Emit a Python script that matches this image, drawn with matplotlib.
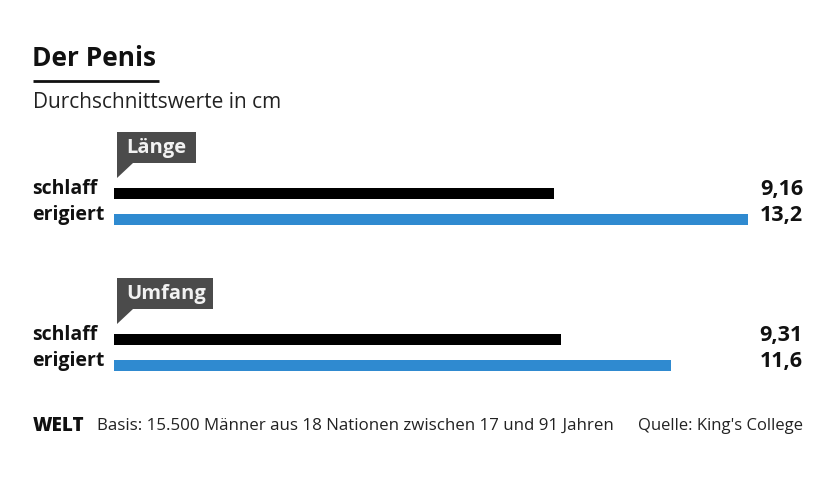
import matplotlib
matplotlib.use("Agg")
import matplotlib.pyplot as plt
from matplotlib.patches import Polygon

plt.rcParams['font.family'] = ['Open Sans', 'DejaVu Sans']

title = "Der Penis"
subtitle = "Durchschnittswerte in cm"
groups = ["Länge", "Umfang"]
categories = ["schlaff", "erigiert"]
laenge_values = [9.16, 13.2]
umfang_values = [9.31, 11.6]
laenge_labels = ["9,16", "13,2"]
umfang_labels = ["9,31", "11,6"]
footer_left = "Basis: 15.500 Männer aus 18 Nationen zwischen 17 und 91 Jahren"
footer_right = "Quelle: King's College"

colors = ["#000000", "#2f8ad0"]
W, H = 840, 480
fig = plt.figure(figsize=(W / 100, H / 100), dpi=100)
fig.patch.set_facecolor("white")

ov = fig.add_axes([0, 0, 1, 1])
ov.set_xlim(0, W)
ov.set_ylim(H, 0)
ov.axis("off")

bx0, bx1 = 114, 748
ax = fig.add_axes([bx0 / W, 0, (bx1 - bx0) / W, 1])
ax.set_xlim(0, 13.2)
ax.set_ylim(H, 0)
ax.axis("off")

group_y = [193, 339]
row_gap = 26
bar_h = 11
box_w = [79, 96]

ov.text(32, 58, title, fontsize=19, fontweight="bold", va="center", ha="left", color="#111111")
ov.plot([33, 159], [81, 81], color="#111111", lw=2, solid_capstyle="butt")
ov.text(33, 103, subtitle, fontsize=15, va="center", ha="left", color="#222222")

for gi, (g, vals, labs) in enumerate(zip(groups, [laenge_values, umfang_values], [laenge_labels, umfang_labels])):
    y0 = group_y[gi]
    ys = [y0 + i * row_gap for i in range(len(categories))]
    ax.barh(ys, vals, height=bar_h, left=0, color=colors, edgecolor="none")
    top = y0 - 61
    bot = y0 - 30
    x0 = 117
    ov.add_patch(Polygon([(x0, top), (x0 + box_w[gi], top), (x0 + box_w[gi], bot),
                          (x0 + 16, bot), (x0, bot + 15), (x0, bot)],
                         closed=True, facecolor="#4b4b4b", edgecolor="none"))
    ov.text(x0 + 9, (top + bot) / 2, g, fontsize=14.5, fontweight="bold", color="#f2f2f2",
            va="center", ha="left")
    for y, c, l in zip(ys, categories, labs):
        ov.text(32, y - 4, c, fontsize=14, fontweight="bold", va="center", ha="left", color="#111111")
        ov.text(803, y - 4, l, fontsize=15.5, fontweight="bold", va="center", ha="right", color="#111111")

ov.text(33, 426, "WELT", fontsize=13.5, fontweight="heavy", va="center", ha="left", color="#111111")
ov.text(97, 426, footer_left, fontsize=12.2, va="center", ha="left", color="#222222")
ov.text(803, 426, footer_right, fontsize=12, va="center", ha="right", color="#222222")

fig.savefig("out.png", dpi=100, facecolor="white")
